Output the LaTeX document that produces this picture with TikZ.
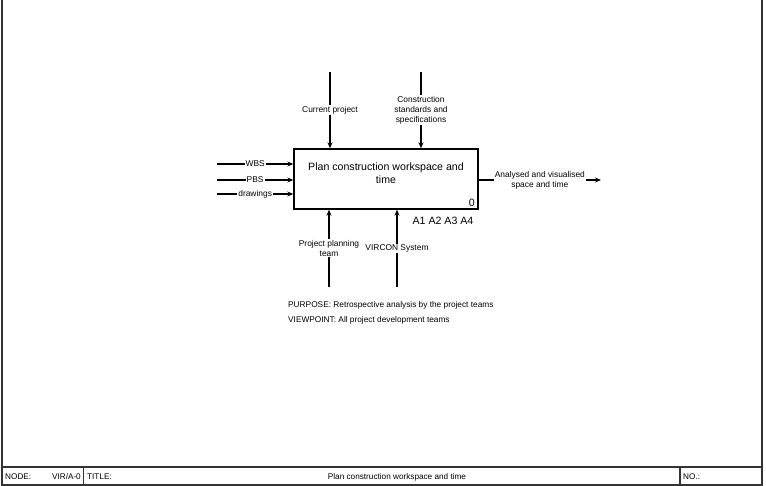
\documentclass[tikz,border=0pt]{standalone}
\usepackage{fontspec}
\setmainfont{Liberation Sans}
\usetikzlibrary{arrows.meta}
\begin{document}
\begin{tikzpicture}[x=1pt,y=-1pt,
  frame/.style={draw=black!80, line width=1.2pt},
  conn/.style={line width=1.3pt, -{Stealth[length=6pt,width=5pt]}},
  lbl/.style={fill=white, inner sep=1pt, font=\fontsize{8.4}{9.8}\selectfont, align=center},
  big/.style={font=\fontsize{10.6}{12.5}\selectfont, inner sep=0pt, align=center},
  small/.style={font=\fontsize{8.3}{10}\selectfont, inner sep=0pt},
  bar/.style={font=\fontsize{8.2}{9}\selectfont, inner sep=0pt}]
\useasboundingbox (0,0) rectangle (766,486);
% frame
\draw[frame] (2,0) -- (2,485) -- (762,485) -- (762,0);
\draw[frame] (2,467) -- (762,467);
\draw[frame] (83.5,467) -- (83.5,485);
\draw[frame] (680,467) -- (680,485);
% main box
\node[draw, line width=1.4pt, minimum width=184pt, minimum height=60pt, inner sep=0pt] (box) at (386,179) {};
\node[big] (boxtext) at (386,173) {Plan construction workspace and\\time};
\node[big, anchor=south east] (zero) at (475,207) {0};
\node[big] (anum) at (443,221) {A1 A2 A3 A4};
% inputs
\coordinate (i1) at (217,164);
\coordinate (i2) at (217,180);
\coordinate (i3) at (217,194);
\draw[conn] (i1) -- node[lbl] (wbs) {WBS} (box.west |- i1);
\draw[conn] (i2) -- node[lbl] (pbs) {PBS} (box.west |- i2);
\draw[conn] (i3) -- node[lbl] (drw) {drawings} (box.west |- i3);
% controls
\coordinate (c1) at (330,72);
\coordinate (c2) at (421,72);
\draw[conn] (c1) -- node[lbl] (cp) {Current project} (c1 |- box.north);
\draw[conn] (c2) -- node[lbl] (cs) {Construction\\standards and\\specifications} (c2 |- box.north);
% mechanisms
\coordinate (m1) at (329,287);
\coordinate (m2) at (397,287);
\draw[conn] (m1) -- node[lbl] (ppt) {Project planning\\team} (m1 |- box.south);
\draw[conn] (m2) -- node[lbl] (vs) {VIRCON System} (m2 |- box.south);
% output
\coordinate (o1) at (601,180);
\draw[conn] (box.east |- o1) -- node[lbl] (out) {Analysed and visualised\\space and time} (o1);
% purpose
\node[small, anchor=west] (purp) at (288,305) {PURPOSE: Retrospective analysis by the project teams};
\node[small, anchor=west] (view) at (288,320) {VIEWPOINT: All project development teams};
% bottom bar
\node[bar, anchor=west] (nodel) at (5,477) {NODE:};
\node[bar, anchor=east] (nodev) at (81,477) {VIR/A-0};
\node[bar, anchor=west] (titlel) at (87,477) {TITLE:};
\node[bar] (titlev) at (397,477) {Plan construction workspace and time};
\node[bar, anchor=west] (nol) at (683,477) {NO.:};
\end{tikzpicture}
\end{document}
